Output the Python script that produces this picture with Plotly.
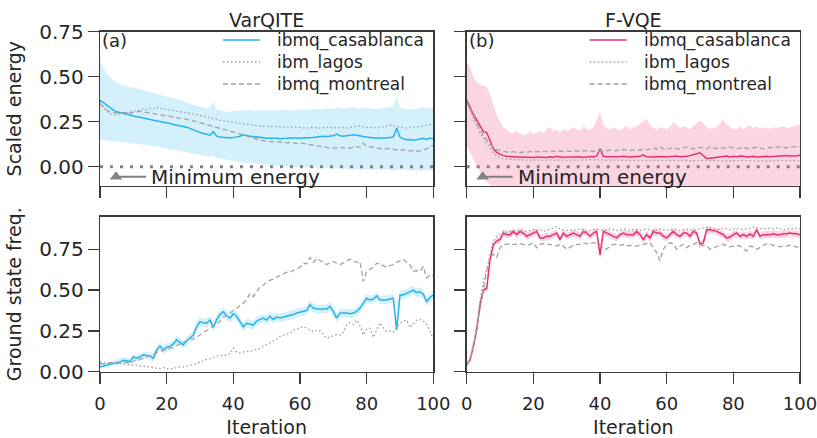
import plotly.graph_objects as go
from plotly.subplots import make_subplots

iterations = list(range(101))

# ---------------- VarQITE, scaled energy ----------------
vq_energy_casablanca = [
    0.37, 0.355, 0.34, 0.33, 0.315, 0.305, 0.30, 0.295, 0.29, 0.285, 0.28,
    0.278, 0.275, 0.272, 0.268, 0.262, 0.258, 0.255, 0.25, 0.245, 0.242,
    0.24, 0.235, 0.23, 0.228, 0.224, 0.22, 0.214, 0.205, 0.198, 0.19,
    0.185, 0.18, 0.175, 0.195, 0.17, 0.165, 0.162, 0.16, 0.16, 0.162,
    0.165, 0.17, 0.178, 0.172, 0.17, 0.168, 0.165, 0.162, 0.16, 0.158,
    0.158, 0.16, 0.158, 0.156, 0.155, 0.158, 0.16, 0.162, 0.16, 0.158,
    0.158, 0.16, 0.16, 0.162, 0.165, 0.168, 0.17, 0.168, 0.17, 0.172,
    0.182, 0.172, 0.17, 0.172, 0.175, 0.178, 0.175, 0.17, 0.168, 0.165,
    0.162, 0.16, 0.158, 0.16, 0.158, 0.16, 0.162, 0.165, 0.215, 0.165,
    0.155, 0.15, 0.152, 0.148, 0.15, 0.155, 0.158, 0.152, 0.16, 0.155]
vq_energy_upper = [
    0.59, 0.55, 0.52, 0.50, 0.48, 0.47, 0.46, 0.45, 0.45, 0.44, 0.44,
    0.435, 0.43, 0.425, 0.42, 0.415, 0.41, 0.405, 0.40, 0.395, 0.39,
    0.385, 0.38, 0.375, 0.37, 0.365, 0.36, 0.35, 0.345, 0.34, 0.335,
    0.33, 0.325, 0.33, 0.365, 0.32, 0.315, 0.31, 0.305, 0.305, 0.31,
    0.31, 0.315, 0.31, 0.32, 0.315, 0.31, 0.312, 0.315, 0.31, 0.312,
    0.315, 0.312, 0.31, 0.315, 0.318, 0.315, 0.312, 0.31, 0.315, 0.318,
    0.32, 0.318, 0.315, 0.32, 0.322, 0.318, 0.32, 0.325, 0.322, 0.32,
    0.33, 0.325, 0.322, 0.325, 0.328, 0.33, 0.325, 0.322, 0.325, 0.328,
    0.325, 0.322, 0.32, 0.325, 0.328, 0.33, 0.332, 0.335, 0.39, 0.33,
    0.325, 0.32, 0.322, 0.318, 0.32, 0.325, 0.33, 0.328, 0.325, 0.33]
vq_energy_lower = [
    0.15, 0.148, 0.147, 0.146, 0.145, 0.144, 0.142, 0.14, 0.138, 0.136, 0.133,
    0.13, 0.127, 0.124, 0.121, 0.118, 0.115, 0.112, 0.109, 0.106, 0.104,
    0.1, 0.096, 0.092, 0.088, 0.084, 0.08, 0.076, 0.072, 0.07, 0.067,
    0.063, 0.06, 0.056, 0.06, 0.05, 0.046, 0.042, 0.038, 0.034, 0.03,
    0.028, 0.026, 0.024, 0.022, 0.02, 0.018, 0.016, 0.014, 0.012, 0.01,
    0.008, 0.006, 0.005, 0.004, 0.003, 0.002, 0.001, 0.0, 0.0, -0.002,
    -0.003, -0.004, -0.005, -0.006, -0.007, -0.008, -0.008, -0.009, -0.01, -0.01,
    -0.008, -0.01, -0.011, -0.012, -0.012, -0.013, -0.014, -0.014, -0.015, -0.015,
    -0.015, -0.016, -0.016, -0.017, -0.017, -0.017, -0.018, -0.018, -0.015, -0.018,
    -0.018, -0.019, -0.019, -0.02, -0.02, -0.02, -0.02, -0.021, -0.021, -0.02]
vq_energy_lagos = [
    0.36, 0.33, 0.31, 0.295, 0.29, 0.29, 0.295, 0.30, 0.30, 0.305, 0.31,
    0.31, 0.315, 0.32, 0.318, 0.325, 0.32, 0.33, 0.325, 0.322, 0.32,
    0.318, 0.315, 0.31, 0.308, 0.305, 0.30, 0.298, 0.295, 0.29, 0.285,
    0.28, 0.275, 0.27, 0.268, 0.262, 0.258, 0.255, 0.252, 0.25, 0.248,
    0.245, 0.242, 0.24, 0.235, 0.232, 0.23, 0.228, 0.226, 0.225, 0.224,
    0.225, 0.222, 0.22, 0.222, 0.22, 0.218, 0.22, 0.222, 0.22, 0.218,
    0.215, 0.214, 0.218, 0.22, 0.218, 0.215, 0.218, 0.22, 0.218, 0.215,
    0.218, 0.22, 0.218, 0.215, 0.218, 0.222, 0.225, 0.228, 0.222, 0.218,
    0.22, 0.218, 0.215, 0.218, 0.222, 0.226, 0.232, 0.228, 0.222, 0.22,
    0.218, 0.215, 0.218, 0.222, 0.22, 0.224, 0.226, 0.23, 0.235, 0.232]
vq_energy_montreal = [
    0.35, 0.33, 0.315, 0.305, 0.30, 0.298, 0.30, 0.302, 0.30, 0.298, 0.30,
    0.305, 0.308, 0.305, 0.302, 0.298, 0.295, 0.29, 0.288, 0.285, 0.282,
    0.28, 0.277, 0.274, 0.27, 0.267, 0.263, 0.26, 0.255, 0.25, 0.245,
    0.24, 0.235, 0.23, 0.225, 0.22, 0.215, 0.21, 0.205, 0.20, 0.196,
    0.19, 0.185, 0.178, 0.172, 0.165, 0.158, 0.152, 0.148, 0.145, 0.142,
    0.14, 0.138, 0.14, 0.137, 0.135, 0.133, 0.135, 0.132, 0.13, 0.133,
    0.13, 0.125, 0.12, 0.118, 0.115, 0.112, 0.11, 0.108, 0.105, 0.105,
    0.103, 0.105, 0.108, 0.105, 0.103, 0.11, 0.112, 0.108, 0.13, 0.115,
    0.11, 0.108, 0.105, 0.1, 0.098, 0.1, 0.102, 0.098, 0.095, 0.09,
    0.095, 0.092, 0.088, 0.09, 0.085, 0.09, 0.095, 0.1, 0.11, 0.12]

# ---------------- F-VQE, scaled energy ----------------
fv_energy_casablanca = [
    0.37, 0.33, 0.29, 0.26, 0.225, 0.195, 0.19, 0.14, 0.10, 0.08, 0.07,
    0.062, 0.058, 0.055, 0.056, 0.055, 0.054, 0.052, 0.053, 0.05, 0.052,
    0.055, 0.054, 0.05, 0.052, 0.055, 0.053, 0.058, 0.054, 0.052, 0.055,
    0.053, 0.055, 0.054, 0.056, 0.052, 0.055, 0.057, 0.055, 0.06, 0.10,
    0.058, 0.056, 0.055, 0.057, 0.055, 0.056, 0.058, 0.055, 0.054, 0.056,
    0.055, 0.058, 0.066, 0.055, 0.054, 0.056, 0.055, 0.057, 0.056, 0.055,
    0.057, 0.058, 0.06, 0.056, 0.055, 0.058, 0.062, 0.065, 0.072, 0.078,
    0.06, 0.045, 0.048, 0.05, 0.052, 0.055, 0.058, 0.06, 0.055, 0.058,
    0.056, 0.06, 0.058, 0.054, 0.056, 0.058, 0.055, 0.057, 0.06, 0.058,
    0.056, 0.058, 0.06, 0.058, 0.06, 0.062, 0.06, 0.058, 0.06, 0.065]
fv_energy_upper = [
    0.59, 0.55, 0.50, 0.47, 0.455, 0.45, 0.445, 0.40, 0.34, 0.29, 0.25,
    0.22, 0.21, 0.19, 0.185, 0.2, 0.18, 0.175, 0.18, 0.2, 0.18,
    0.19, 0.20, 0.185, 0.21, 0.22, 0.2, 0.205, 0.19, 0.21, 0.2,
    0.205, 0.22, 0.21, 0.2, 0.225, 0.21, 0.205, 0.22, 0.26, 0.31,
    0.23, 0.215, 0.205, 0.22, 0.21, 0.2, 0.215, 0.225, 0.205, 0.22,
    0.225, 0.24, 0.255, 0.265, 0.235, 0.215, 0.205, 0.22, 0.215, 0.21,
    0.22, 0.25, 0.23, 0.215, 0.225, 0.22, 0.21, 0.225, 0.235, 0.255,
    0.24, 0.22, 0.21, 0.215, 0.22, 0.24, 0.265, 0.235, 0.22, 0.21,
    0.205, 0.225, 0.21, 0.22, 0.23, 0.215, 0.225, 0.21, 0.22, 0.215,
    0.21, 0.22, 0.215, 0.22, 0.225, 0.215, 0.22, 0.225, 0.23, 0.235]
fv_energy_lower = [
    0.12, 0.08, 0.04, 0.0, -0.03, -0.06, -0.08, -0.10, -0.12, -0.14, -0.16,
    -0.16, -0.17, -0.16, -0.17, -0.16, -0.17, -0.16, -0.17, -0.16, -0.17,
    -0.16, -0.17, -0.16, -0.17, -0.16, -0.17, -0.16, -0.17, -0.16, -0.17,
    -0.16, -0.17, -0.16, -0.17, -0.16, -0.17, -0.16, -0.17, -0.16, -0.17,
    -0.16, -0.17, -0.16, -0.17, -0.16, -0.17, -0.16, -0.17, -0.16, -0.17,
    -0.16, -0.17, -0.16, -0.17, -0.16, -0.17, -0.16, -0.17, -0.16, -0.17,
    -0.16, -0.17, -0.16, -0.17, -0.16, -0.17, -0.16, -0.17, -0.16, -0.17,
    -0.16, -0.17, -0.16, -0.17, -0.16, -0.17, -0.16, -0.17, -0.16, -0.17,
    -0.16, -0.17, -0.16, -0.17, -0.16, -0.17, -0.16, -0.17, -0.16, -0.17,
    -0.16, -0.17, -0.16, -0.17, -0.16, -0.17, -0.16, -0.17, -0.16, -0.17]
fv_energy_lagos = [
    0.36, 0.32, 0.27, 0.23, 0.19, 0.16, 0.13, 0.10, 0.075, 0.06, 0.05,
    0.045, 0.042, 0.04, 0.04, 0.038, 0.04, 0.038, 0.036, 0.038, 0.04,
    0.038, 0.036, 0.038, 0.04, 0.038, 0.036, 0.038, 0.04, 0.038, 0.036,
    0.038, 0.04, 0.038, 0.036, 0.038, 0.04, 0.042, 0.04, 0.038, 0.04,
    0.038, 0.036, 0.038, 0.04, 0.038, 0.036, 0.038, 0.036, 0.035, 0.036,
    0.038, 0.036, 0.035, 0.036, 0.038, 0.036, 0.035, 0.036, 0.038, 0.036,
    0.035, 0.036, 0.038, 0.036, 0.035, 0.034, 0.035, 0.036, 0.035, 0.034,
    0.035, 0.034, 0.035, 0.036, 0.035, 0.034, 0.033, 0.034, 0.035, 0.034,
    0.033, 0.034, 0.035, 0.034, 0.033, 0.034, 0.035, 0.034, 0.033, 0.032,
    0.033, 0.034, 0.033, 0.032, 0.033, 0.034, 0.033, 0.032, 0.033, 0.034]
fv_energy_montreal = [
    0.36, 0.32, 0.28, 0.24, 0.205, 0.175, 0.15, 0.125, 0.11, 0.095, 0.09,
    0.085, 0.082, 0.08, 0.084, 0.08, 0.078, 0.082, 0.08, 0.085, 0.082,
    0.085, 0.083, 0.086, 0.084, 0.088, 0.085, 0.083, 0.087, 0.085, 0.088,
    0.086, 0.09, 0.087, 0.085, 0.088, 0.09, 0.087, 0.085, 0.088, 0.09,
    0.087, 0.09, 0.092, 0.088, 0.09, 0.093, 0.095, 0.092, 0.09, 0.093,
    0.095, 0.092, 0.097, 0.094, 0.1, 0.105, 0.098, 0.112, 0.1, 0.098,
    0.102, 0.108, 0.1, 0.098, 0.104, 0.11, 0.105, 0.1, 0.103, 0.108,
    0.105, 0.1, 0.112, 0.108, 0.1, 0.104, 0.102, 0.108, 0.11, 0.105,
    0.1, 0.104, 0.108, 0.103, 0.1, 0.106, 0.108, 0.104, 0.1, 0.105,
    0.108, 0.105, 0.11, 0.112, 0.108, 0.105, 0.11, 0.112, 0.11, 0.113]

# ---------------- VarQITE, ground state frequency ----------------
vq_freq_casablanca = [
    0.03, 0.035, 0.04, 0.045, 0.05, 0.055, 0.06, 0.07, 0.065, 0.062, 0.09,
    0.082, 0.09, 0.103, 0.1, 0.098, 0.082, 0.133, 0.157, 0.133, 0.15,
    0.155, 0.17, 0.195, 0.18, 0.164, 0.19, 0.21, 0.225, 0.277, 0.307,
    0.30, 0.297, 0.317, 0.272, 0.32, 0.35, 0.369, 0.343, 0.328, 0.355,
    0.34, 0.31, 0.275, 0.297, 0.29, 0.286, 0.31, 0.32, 0.328, 0.317,
    0.34, 0.32, 0.335, 0.33, 0.335, 0.34, 0.345, 0.35, 0.36, 0.365,
    0.37, 0.375, 0.41, 0.39, 0.385, 0.385, 0.387, 0.385, 0.40, 0.37,
    0.328, 0.36, 0.36, 0.36, 0.355, 0.36, 0.37, 0.39, 0.42, 0.45,
    0.44, 0.445, 0.465, 0.44, 0.44, 0.44, 0.445, 0.45, 0.256, 0.47,
    0.47, 0.48, 0.49, 0.50, 0.485, 0.49, 0.475, 0.43, 0.455, 0.47]
vq_freq_err = [
    0.012, 0.013, 0.014, 0.015, 0.016, 0.017, 0.018, 0.018, 0.019, 0.019, 0.02,
    0.02, 0.021, 0.021, 0.022, 0.022, 0.022, 0.023, 0.023, 0.023, 0.024,
    0.024, 0.024, 0.025, 0.025, 0.025, 0.026, 0.026, 0.027, 0.027, 0.028,
    0.028, 0.028, 0.028, 0.028, 0.028, 0.028, 0.028, 0.028, 0.028, 0.028,
    0.027, 0.027, 0.027, 0.027, 0.027, 0.027, 0.027, 0.027, 0.027, 0.027,
    0.027, 0.027, 0.027, 0.027, 0.027, 0.027, 0.027, 0.027, 0.027, 0.027,
    0.027, 0.027, 0.027, 0.027, 0.027, 0.027, 0.027, 0.027, 0.027, 0.027,
    0.027, 0.027, 0.027, 0.027, 0.027, 0.027, 0.027, 0.027, 0.027, 0.027,
    0.027, 0.027, 0.027, 0.027, 0.027, 0.027, 0.027, 0.027, 0.027, 0.027,
    0.027, 0.027, 0.027, 0.027, 0.027, 0.027, 0.027, 0.027, 0.027, 0.027]
vq_freq_lagos = [
    0.06, 0.055, 0.05, 0.05, 0.05, 0.05, 0.05, 0.045, 0.045, 0.04, 0.04,
    0.04, 0.035, 0.035, 0.03, 0.03, 0.025, 0.02, 0.02, 0.025, 0.02,
    0.015, 0.02, 0.025, 0.03, 0.03, 0.035, 0.04, 0.045, 0.05, 0.06,
    0.07, 0.075, 0.08, 0.09, 0.095, 0.1, 0.1, 0.1, 0.11, 0.145,
    0.12, 0.115, 0.12, 0.125, 0.125, 0.13, 0.135, 0.143, 0.155, 0.165,
    0.18, 0.19, 0.2, 0.215, 0.225, 0.23, 0.235, 0.254, 0.26, 0.27,
    0.277, 0.265, 0.255, 0.245, 0.255, 0.25, 0.23, 0.205, 0.215, 0.22,
    0.225, 0.225, 0.24, 0.285, 0.30, 0.29, 0.316, 0.28, 0.225, 0.26,
    0.266, 0.21, 0.25, 0.30, 0.27, 0.245, 0.25, 0.245, 0.27, 0.296,
    0.31, 0.316, 0.27, 0.29, 0.316, 0.32, 0.31, 0.29, 0.25, 0.2]
vq_freq_montreal = [
    0.05, 0.05, 0.05, 0.055, 0.055, 0.05, 0.055, 0.06, 0.055, 0.05, 0.065,
    0.07, 0.075, 0.08, 0.09, 0.1, 0.11, 0.12, 0.125, 0.13, 0.14,
    0.145, 0.15, 0.16, 0.17, 0.18, 0.19, 0.2, 0.2, 0.21, 0.225,
    0.24, 0.25, 0.265, 0.28, 0.29, 0.31, 0.335, 0.345, 0.36, 0.375,
    0.39, 0.40, 0.42, 0.44, 0.48, 0.46, 0.49, 0.52, 0.53, 0.55,
    0.56, 0.57, 0.58, 0.59, 0.60, 0.61, 0.61, 0.62, 0.63, 0.64,
    0.665, 0.66, 0.70, 0.67, 0.695, 0.68, 0.67, 0.657, 0.665, 0.676,
    0.665, 0.657, 0.665, 0.675, 0.69, 0.68, 0.67, 0.675, 0.553, 0.615,
    0.63, 0.64, 0.665, 0.66, 0.65, 0.64, 0.65, 0.657, 0.67, 0.68,
    0.69, 0.67, 0.655, 0.615, 0.62, 0.615, 0.645, 0.574, 0.594, 0.59]

# ---------------- F-VQE, ground state frequency ----------------
fv_freq_casablanca = [
    0.041, 0.072, 0.154, 0.256, 0.41, 0.50, 0.51, 0.687, 0.779, 0.80, 0.81,
    0.85, 0.84, 0.84, 0.86, 0.84, 0.86, 0.85, 0.83, 0.84, 0.85,
    0.86, 0.82, 0.82, 0.83, 0.83, 0.84, 0.85, 0.81, 0.85, 0.83,
    0.84, 0.85, 0.84, 0.83, 0.86, 0.85, 0.83, 0.85, 0.86, 0.716,
    0.86, 0.85, 0.84, 0.83, 0.82, 0.84, 0.85, 0.84, 0.84, 0.84,
    0.86, 0.84, 0.81, 0.84, 0.82, 0.86, 0.85, 0.85, 0.83, 0.82,
    0.84, 0.86, 0.84, 0.83, 0.85, 0.85, 0.83, 0.86, 0.85, 0.78,
    0.79, 0.87, 0.87, 0.865, 0.86, 0.85, 0.84, 0.82, 0.825, 0.84,
    0.85, 0.83, 0.84, 0.83, 0.845, 0.83, 0.87, 0.83, 0.84, 0.84,
    0.84, 0.845, 0.84, 0.84, 0.845, 0.845, 0.85, 0.845, 0.845, 0.84]
fv_freq_err = [
    0.008, 0.01, 0.012, 0.014, 0.016, 0.018, 0.02, 0.02, 0.021, 0.021, 0.022,
    0.022, 0.022, 0.022, 0.022, 0.022, 0.022, 0.022, 0.022, 0.022, 0.022,
    0.022, 0.022, 0.022, 0.022, 0.022, 0.022, 0.022, 0.022, 0.022, 0.022,
    0.022, 0.022, 0.022, 0.022, 0.022, 0.022, 0.022, 0.022, 0.022, 0.024,
    0.022, 0.022, 0.022, 0.022, 0.022, 0.022, 0.022, 0.022, 0.022, 0.022,
    0.022, 0.022, 0.022, 0.022, 0.022, 0.022, 0.022, 0.022, 0.022, 0.022,
    0.022, 0.022, 0.022, 0.022, 0.022, 0.022, 0.022, 0.022, 0.022, 0.022,
    0.022, 0.022, 0.022, 0.022, 0.022, 0.022, 0.022, 0.022, 0.022, 0.022,
    0.022, 0.022, 0.022, 0.022, 0.022, 0.022, 0.022, 0.022, 0.022, 0.022,
    0.022, 0.022, 0.022, 0.022, 0.022, 0.022, 0.022, 0.022, 0.022, 0.022]
fv_freq_lagos = [
    0.04, 0.08, 0.17, 0.28, 0.44, 0.55, 0.63, 0.72, 0.80, 0.83, 0.845,
    0.86, 0.855, 0.86, 0.865, 0.86, 0.87, 0.865, 0.86, 0.865, 0.87,
    0.865, 0.87, 0.86, 0.865, 0.875, 0.88, 0.89, 0.875, 0.87, 0.865,
    0.87, 0.865, 0.87, 0.875, 0.87, 0.86, 0.865, 0.87, 0.875, 0.87,
    0.865, 0.87, 0.875, 0.87, 0.865, 0.87, 0.875, 0.87, 0.865, 0.87,
    0.87, 0.865, 0.87, 0.875, 0.87, 0.865, 0.87, 0.875, 0.87, 0.865,
    0.87, 0.875, 0.87, 0.865, 0.87, 0.875, 0.87, 0.865, 0.87, 0.875,
    0.88, 0.885, 0.88, 0.875, 0.87, 0.875, 0.88, 0.875, 0.87, 0.875,
    0.88, 0.875, 0.87, 0.875, 0.88, 0.885, 0.88, 0.875, 0.88, 0.875,
    0.88, 0.875, 0.88, 0.875, 0.87, 0.875, 0.88, 0.875, 0.88, 0.875]
fv_freq_montreal = [
    0.04, 0.07, 0.15, 0.27, 0.40, 0.52, 0.62, 0.70, 0.72, 0.70, 0.76,
    0.78, 0.78, 0.785, 0.78, 0.78, 0.785, 0.78, 0.775, 0.78, 0.79,
    0.76, 0.78, 0.785, 0.78, 0.78, 0.775, 0.77, 0.78, 0.77, 0.75,
    0.765, 0.775, 0.78, 0.78, 0.79, 0.785, 0.785, 0.79, 0.79, 0.78,
    0.76, 0.75, 0.77, 0.78, 0.78, 0.775, 0.78, 0.77, 0.775, 0.77,
    0.77, 0.775, 0.78, 0.785, 0.79, 0.76, 0.73, 0.68, 0.75, 0.78,
    0.79, 0.785, 0.75, 0.77, 0.78, 0.76, 0.775, 0.78, 0.79, 0.78,
    0.775, 0.77, 0.75, 0.76, 0.77, 0.775, 0.78, 0.77, 0.765, 0.77,
    0.775, 0.77, 0.755, 0.74, 0.77, 0.765, 0.75, 0.76, 0.77, 0.785,
    0.78, 0.775, 0.77, 0.765, 0.77, 0.77, 0.775, 0.77, 0.765, 0.76]

device_names = ["ibmq_casablanca", "ibm_lagos", "ibmq_montreal"]
panel_titles = ["VarQITE", "F-VQE"]
panel_letters = ["(a)", "(b)"]
y_titles = ["Scaled energy", "Ground state freq."]
x_title = "Iteration"
min_energy_label = "Minimum energy"
min_energy_value = 0.0
min_marker_x = [4.8]
min_marker_y = [-0.055]

BLUE = "#27b3ec"
BLUE_FILL = "rgba(39,179,236,0.20)"
PINK = "#ec2f6d"
PINK_FILL = "rgba(236,47,109,0.20)"
GRAY_DOT = "#9a9a9a"
GRAY_DASH = "#a2a2a2"
DOT_STYLE = "1.5px,2.5px"
DASH_STYLE = "5px,3px"
AX = "#3a3a3a"
TXT = "#262626"
FONT = "DejaVu Sans"
YTICK_SIZE = 20
XTICK_SIZE = 18
TITLE_SIZE = 19
LEGEND_SIZE = 17

fig = make_subplots(rows=2, cols=2)

def add_panel(row, col, mean, lo, hi, lagos, montreal, color, fill):
    fig.add_trace(go.Scatter(x=iterations, y=lo, mode="lines", line=dict(width=0, color=fill),
                             showlegend=False, hoverinfo="skip"), row=row, col=col)
    fig.add_trace(go.Scatter(x=iterations, y=hi, mode="lines", line=dict(width=0, color=fill),
                             fill="tonexty", fillcolor=fill, showlegend=False, hoverinfo="skip"),
                  row=row, col=col)
    fig.add_trace(go.Scatter(x=iterations, y=mean, mode="lines", name=device_names[0],
                             line=dict(color=color, width=1.5), showlegend=False), row=row, col=col)
    fig.add_trace(go.Scatter(x=iterations, y=lagos, mode="lines", name=device_names[1],
                             line=dict(color=GRAY_DOT, width=1.3, dash=DOT_STYLE), showlegend=False),
                  row=row, col=col)
    fig.add_trace(go.Scatter(x=iterations, y=montreal, mode="lines", name=device_names[2],
                             line=dict(color=GRAY_DASH, width=1.3, dash=DASH_STYLE), showlegend=False),
                  row=row, col=col)

add_panel(1, 1, vq_energy_casablanca, vq_energy_lower, vq_energy_upper,
          vq_energy_lagos, vq_energy_montreal, BLUE, BLUE_FILL)
add_panel(1, 2, fv_energy_casablanca, fv_energy_lower, fv_energy_upper,
          fv_energy_lagos, fv_energy_montreal, PINK, PINK_FILL)
add_panel(2, 1, vq_freq_casablanca,
          [m - e for m, e in zip(vq_freq_casablanca, vq_freq_err)],
          [m + e for m, e in zip(vq_freq_casablanca, vq_freq_err)],
          vq_freq_lagos, vq_freq_montreal, BLUE, BLUE_FILL)
add_panel(2, 2, fv_freq_casablanca,
          [m - e for m, e in zip(fv_freq_casablanca, fv_freq_err)],
          [m + e for m, e in zip(fv_freq_casablanca, fv_freq_err)],
          fv_freq_lagos, fv_freq_montreal, PINK, PINK_FILL)

# minimum-energy markers
for col in (1, 2):
    fig.add_trace(go.Scatter(x=min_marker_x, y=min_marker_y, mode="markers",
                             marker=dict(symbol="triangle-up", size=11, color="#858585"),
                             showlegend=False, hoverinfo="skip"), row=1, col=col)

# The page body margin is removed (post_script below), so the figure fills the window.
W, H = 817, 438
def px_x(p):
    return p / W
def px_y(p):
    return 1 - p / H

xl = [px_x(100), px_x(433.3)]
xr = [px_x(466.7), px_x(800)]
yt = [px_y(185.7), px_y(31.7)]
yb = [px_y(371.7), px_y(216.7)]

axis_common = dict(showline=True, mirror=True, linecolor=AX, linewidth=1.3,
                   ticks="outside", ticklen=11, tickwidth=1.3, tickcolor=AX,
                   showgrid=False, zeroline=False, automargin=False)
xtickfont = dict(family=FONT, size=XTICK_SIZE, color=TXT)
ytickfont = dict(family=FONT, size=YTICK_SIZE, color=TXT)

xticks = [0, 20, 40, 60, 80, 100]
yticks = [0, 0.25, 0.5, 0.75]
title_font = dict(family=FONT, size=TITLE_SIZE, color=TXT)

fig.update_layout(
    template="none",
    showlegend=False,
    xaxis=dict(domain=xl, range=[0, 100], tickvals=xticks, showticklabels=False, tickfont=xtickfont, **axis_common),
    xaxis2=dict(domain=xr, range=[0, 100], tickvals=xticks, showticklabels=False, tickfont=xtickfont, **axis_common),
    xaxis3=dict(domain=xl, range=[0, 100], tickvals=xticks, ticklabelstandoff=4, tickfont=xtickfont,
                ticklabeloverflow="allow",
                title=dict(text=x_title, font=title_font, standoff=8), **axis_common),
    xaxis4=dict(domain=xr, range=[0, 100], tickvals=xticks, ticklabelstandoff=4, tickfont=xtickfont,
                ticklabeloverflow="allow",
                title=dict(text=x_title, font=title_font, standoff=8), **axis_common),
    yaxis=dict(domain=yt, range=[-0.105, 0.75], tickvals=yticks, tickformat=".2f", tickfont=ytickfont,
               title=dict(text=y_titles[0], font=title_font, standoff=12), **axis_common),
    yaxis2=dict(domain=yt, range=[-0.105, 0.75], tickvals=yticks, showticklabels=False, tickfont=ytickfont,
                **axis_common),
    yaxis3=dict(domain=yb, range=[0, 0.95], tickvals=yticks, tickformat=".2f", tickfont=ytickfont,
                title=dict(text=y_titles[1], font=title_font, standoff=12), **axis_common),
    yaxis4=dict(domain=yb, range=[0, 0.95], tickvals=yticks, showticklabels=False, tickfont=ytickfont,
                **axis_common),
    width=W, height=H,
    margin=dict(l=0, r=0, t=0, b=0),
    plot_bgcolor="white", paper_bgcolor="white",
    font=dict(family=FONT, color=TXT),
)

# legend drawn inside each top panel
legend_rows = [40, 62, 84]
for i, main_color in enumerate((BLUE, PINK)):
    left = 100 + i * 366.7
    styles = [(main_color, None, 1.5), (GRAY_DOT, DOT_STYLE, 1.3), (GRAY_DASH, DASH_STYLE, 1.3)]
    for name, row_y, (c, d, w) in zip(device_names, legend_rows, styles):
        line = dict(color=c, width=w)
        if d:
            line["dash"] = d
        fig.add_shape(type="line", xref="paper", yref="paper",
                      x0=px_x(left + 123), x1=px_x(left + 160), y0=px_y(row_y), y1=px_y(row_y),
                      line=line, layer="above")
        fig.add_annotation(xref="paper", yref="paper", x=px_x(left + 175), y=px_y(row_y),
                           text=name, showarrow=False, xanchor="left", yanchor="middle",
                           font=dict(family=FONT, size=LEGEND_SIZE, color=TXT))

# minimum energy dotted line and label in top panels
for xa, ya in (("x", "y"), ("x2", "y2")):
    fig.add_shape(type="line", xref=xa, yref=ya, x0=0, x1=100, y0=min_energy_value, y1=min_energy_value,
                  line=dict(color="#808080", width=3, dash="3px,7px"), layer="above")
    fig.add_shape(type="line", xref=xa, yref=ya, x0=min_marker_x[0], x1=13.8,
                  y0=min_marker_y[0], y1=min_marker_y[0],
                  line=dict(color="#808080", width=2), layer="above")
    fig.add_annotation(xref=xa, yref=ya, x=14.8, y=min_marker_y[0], text=min_energy_label,
                       showarrow=False, xanchor="left", yanchor="middle",
                       font=dict(family=FONT, size=20, color=TXT))

for i, dom in enumerate((xl, xr)):
    fig.add_annotation(xref="paper", yref="paper", x=(dom[0] + dom[1]) / 2, y=px_y(20),
                       text=panel_titles[i], showarrow=False, xanchor="center", yanchor="middle",
                       font=dict(family=FONT, size=19, color=TXT))
    fig.add_annotation(xref="paper", yref="paper", x=dom[0], y=px_y(40),
                       text=panel_letters[i], showarrow=False, xanchor="left", yanchor="middle",
                       font=dict(family=FONT, size=18, color=TXT))

for arr in (vq_energy_casablanca, vq_energy_upper, vq_energy_lower, vq_energy_lagos, vq_energy_montreal,
            fv_energy_casablanca, fv_energy_upper, fv_energy_lower, fv_energy_lagos, fv_energy_montreal,
            vq_freq_casablanca, vq_freq_err, vq_freq_lagos, vq_freq_montreal,
            fv_freq_casablanca, fv_freq_err, fv_freq_lagos, fv_freq_montreal):
    assert len(arr) == 101, len(arr)

fig.write_html("out.html",
               config={"displayModeBar": False, "staticPlot": True},
               post_script="document.body.style.margin='0';document.body.style.overflow='hidden';")
